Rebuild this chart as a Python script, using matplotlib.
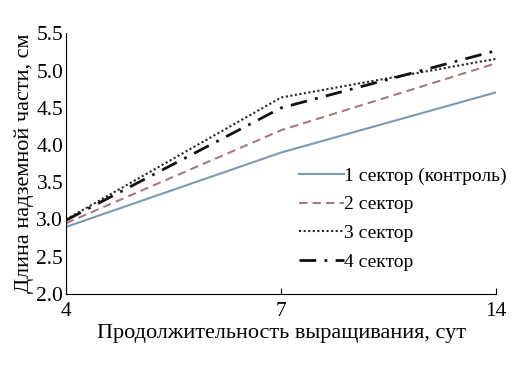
import matplotlib.pyplot as plt

plt.rcParams['font.family'] = ['Liberation Serif', 'DejaVu Serif']

days = ['4', '7', '14']
sector1 = [2.9, 3.9, 4.71]
sector2 = [2.95, 4.2, 5.1]
sector3 = [3.0, 4.64, 5.16]
sector4 = [2.99, 4.5, 5.27]
labels = ['1 сектор (контроль)', '2 сектор', '3 сектор', '4 сектор']

fig, ax = plt.subplots(figsize=(5.28, 3.72), dpi=100)
x = range(len(days))
ax.plot(x, sector1, color='#7f98b3', lw=1.5, label=labels[0])
ax.plot(x, sector2, color='#a57a7c', lw=1.5, ls=(0, (4, 2.5)), label=labels[1])
ax.plot(x, sector3, color='#222222', lw=1.5, ls=(0, (1, 1.2)), label=labels[2])
ax.plot(x, sector4, color='#111111', lw=2, ls=(0, (6, 3, 1, 3)), label=labels[3])

ax.set_xlim(0, 2)
ax.set_ylim(2.0, 5.5)
ax.set_xticks(list(x))
ax.set_xticklabels(days)
ax.set_yticks([2.0, 2.5, 3.0, 3.5, 4.0, 4.5, 5.0, 5.5])
ax.set_yticklabels(['%.1f' % v for v in ax.get_yticks()])
ax.tick_params(axis='x', direction='in', length=4, labelsize=15.5, pad=6)
ax.tick_params(axis='y', length=0, labelsize=15.5, pad=2)
for s in ['top', 'right']:
    ax.spines[s].set_visible(False)

ax.set_xlabel('Продолжительность выращивания, сут', fontsize=16, labelpad=2)
ax.set_ylabel('Длина надземной части, см', fontsize=16, labelpad=2)

ax.legend(loc='lower right', bbox_to_anchor=(1.065, 0.02), frameon=False,
          fontsize=14, handlelength=2.3, handletextpad=0.0, labelspacing=0.58)

plt.subplots_adjust(left=0.125, right=0.94, top=0.91, bottom=0.21)
plt.savefig('out.png')
